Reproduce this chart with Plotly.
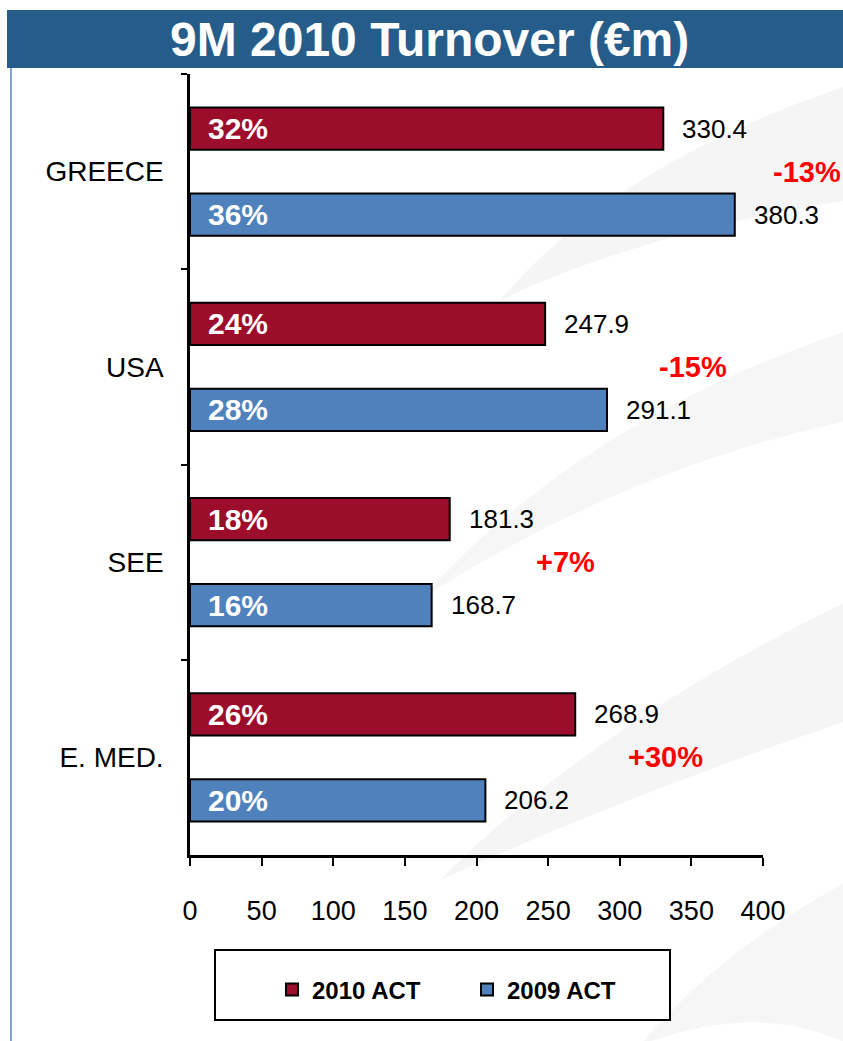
import plotly.graph_objects as go

categories = ["GREECE", "USA", "SEE", "E. MED."]
act_2010 = [330.4, 247.9, 181.3, 268.9]
act_2009 = [380.3, 291.1, 168.7, 206.2]
share_2010 = ["32%", "24%", "18%", "26%"]
share_2009 = ["36%", "28%", "16%", "20%"]
changes = ["-13%", "-15%", "+7%", "+30%"]
change_x = [431, 351, 262, 332]
x_ticks = [0, 50, 100, 150, 200, 250, 300, 350, 400]

RED = "#9b0d2b"
BLUE = "#4f81bd"
FONT = "Liberation Sans, Arial, sans-serif"

# reference pixel -> paper coords (plot area spans x 190..763, y 74..855)
def PX(x):
    return (x - 190) / 573

def PY(y):
    return (855 - y) / 781

fig = go.Figure()
fig.add_trace(go.Bar(y=categories, x=act_2010, orientation="h", name="2010 ACT",
                     marker=dict(color=RED, line=dict(color="black", width=2))))
fig.add_trace(go.Bar(y=categories, x=act_2009, orientation="h", name="2009 ACT",
                     marker=dict(color=BLUE, line=dict(color="black", width=2))))

ann = []
SH = 43
for i, c in enumerate(categories):
    ann.append(dict(x=0, y=c, xref="x", yref="y", yshift=SH, xshift=16, xanchor="left",
                    text=share_2010[i], showarrow=False,
                    font=dict(family=FONT, size=30, color="white", weight="bold")))
    ann.append(dict(x=0, y=c, xref="x", yref="y", yshift=-SH, xshift=16, xanchor="left",
                    text=share_2009[i], showarrow=False,
                    font=dict(family=FONT, size=30, color="white", weight="bold")))
    ann.append(dict(x=act_2010[i], y=c, xref="x", yref="y", yshift=SH, xshift=17, xanchor="left",
                    text=f"{act_2010[i]:.1f}", showarrow=False,
                    font=dict(family=FONT, size=26, color="black")))
    ann.append(dict(x=act_2009[i], y=c, xref="x", yref="y", yshift=-SH, xshift=17, xanchor="left",
                    text=f"{act_2009[i]:.1f}", showarrow=False,
                    font=dict(family=FONT, size=26, color="black")))
    ann.append(dict(x=change_x[i] / 400, y=c, xref="paper", yref="y", xanchor="center",
                    text=changes[i], showarrow=False,
                    font=dict(family=FONT, size=29, color="#ff0000", weight="bold")))

ann.append(dict(x=PX(429), y=PY(40), xref="paper", yref="paper",
                text="9M 2010 Turnover (€m)", showarrow=False, xanchor="center", yanchor="middle",
                font=dict(family=FONT, size=48, color="white", weight="bold")))

def swoosh(p0, c_top, p1, p2, c_bot, color):
    path = (f"M {PX(p0[0])},{PY(p0[1])} "
            f"Q {PX(c_top[0])},{PY(c_top[1])} {PX(p1[0])},{PY(p1[1])} "
            f"L {PX(p2[0])},{PY(p2[1])} "
            f"Q {PX(c_bot[0])},{PY(c_bot[1])} {PX(p0[0])},{PY(p0[1])} Z")
    return dict(type="path", xref="paper", yref="paper", path=path,
                fillcolor=color, line=dict(width=0), layer="below")

shapes = [
    swoosh((500, 300), (620, 160), (850, 85), (850, 200), (650, 230), "#f5f5f5"),
    swoosh((420, 600), (580, 420), (850, 330), (850, 420), (620, 470), "#f6f6f6"),
    swoosh((440, 880), (600, 720), (850, 600), (850, 720), (640, 790), "#f5f5f5"),
    swoosh((640, 1045), (720, 950), (850, 880), (850, 1045), (760, 1000), "#f6f6f6"),
    dict(type="rect", xref="paper", yref="paper", x0=PX(7), x1=PX(855),
         y0=PY(68), y1=PY(10), fillcolor="#255c8a", line=dict(width=0), layer="below"),
    dict(type="line", xref="paper", yref="paper", x0=PX(11), x1=PX(11),
         y0=PY(68), y1=PY(1050), line=dict(color="#5b8ac0", width=1.5)),
    dict(type="rect", xref="paper", yref="paper", x0=PX(215), x1=PX(670),
         y0=PY(1020), y1=PY(950), line=dict(color="black", width=2),
         fillcolor="white", layer="below"),
]

fig.update_layout(
    width=843, height=1041,
    margin=dict(l=190, r=80, t=74, b=186, autoexpand=False),
    paper_bgcolor="white", plot_bgcolor="rgba(0,0,0,0)",
    barmode="group", bargap=0.12, bargroupgap=0.51,
    font=dict(family=FONT, color="black"),
    showlegend=True,
    legend=dict(orientation="h", x=PX(272), xanchor="left",
                y=PY(990), yanchor="middle",
                font=dict(family=FONT, size=24, color="black", weight="bold"),
                bgcolor="rgba(0,0,0,0)", entrywidth=150, traceorder="normal"),
    annotations=ann, shapes=shapes,
)
fig.update_xaxes(range=[0, 400], tickvals=x_ticks, showgrid=False, zeroline=False,
                 showline=True, linecolor="black", linewidth=2.5,
                 ticks="outside", ticklen=8, tickwidth=2, tickcolor="black",
                 ticklabelstandoff=22, tickfont=dict(family=FONT, size=27, color="black"))
fig.update_yaxes(type="category", categoryorder="array", categoryarray=categories,
                 range=[3.5, -0.5], showgrid=False, zeroline=False,
                 showline=True, linecolor="black", linewidth=2.5,
                 ticks="outside", ticklen=6, tickwidth=2, tickcolor="black", tickson="boundaries",
                 ticklabelstandoff=18, tickfont=dict(family=FONT, size=28, color="black"))

fig.write_html("out.html", config={"displayModeBar": False},
               post_script="document.body.style.margin='0';document.body.style.overflow='hidden';")
